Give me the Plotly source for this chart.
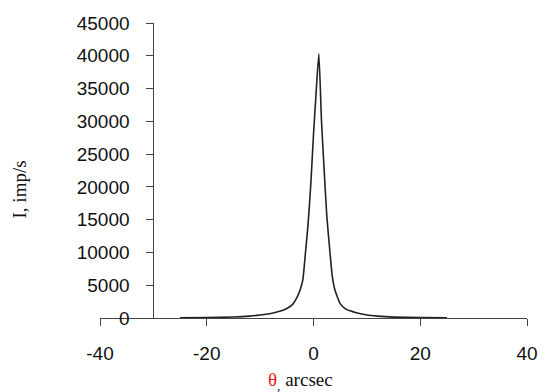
import plotly.graph_objects as go

# Angle (arcsec) and intensity (imp/s)
theta = [-25, -20, -15, -12, -10, -8, -6, -5, -4, -3, -2.5, -2, -1.5, -1, -0.5,
         0, 0.5, 1.0, 1.5, 2.0, 2.5, 3.0, 3.5, 4.0, 5, 6, 7, 8, 10, 12, 15, 20, 25]
intensity = [20, 60, 150, 280, 450, 700, 1100, 1450, 2000, 3300, 4300, 5800, 10000, 14500, 20500,
             28000, 34500, 40300, 30000, 22500, 15500, 10800, 6500, 4300, 2200, 1400, 1050, 800, 450, 280, 140, 60, 20]

x_ticks = [-40, -20, 0, 20, 40]
y_ticks = [0, 5000, 10000, 15000, 20000, 25000, 30000, 35000, 40000, 45000]

axis_color = "#444444"
tick_font = dict(family="Liberation Sans, Arial, sans-serif", size=19, color="#111111")
title_font = dict(family="Liberation Serif, Times New Roman, serif", size=19, color="#111111")

fig = go.Figure()
fig.add_trace(go.Scatter(x=theta, y=intensity, mode="lines",
                         line=dict(color="#222222", width=1.6, shape="spline", smoothing=0.5),
                         showlegend=False, hoverinfo="skip"))

fig.update_layout(
    width=550, height=392,
    margin=dict(l=100, r=15, t=23, b=74),
    paper_bgcolor="white", plot_bgcolor="white",
    xaxis=dict(range=[-40, 40], tickvals=x_ticks, ticktext=[str(v) for v in x_ticks],
               showgrid=False, zeroline=False, showline=True, linecolor=axis_color, linewidth=1,
               ticks="outside", ticklen=7, tickcolor=axis_color, tickwidth=1,
               tickfont=tick_font, ticklabelstandoff=11, anchor="y"),
    yaxis=dict(range=[0, 45000], tickvals=y_ticks, ticktext=[str(v) for v in y_ticks],
               showgrid=False, zeroline=False, showline=True, linecolor=axis_color, linewidth=1,
               ticks="outside", ticklen=7, tickcolor=axis_color, tickwidth=1,
               tickfont=tick_font, anchor="free", position=0.125, ticklabelstandoff=13),
    annotations=[
        dict(text="I, imp/s", textangle=-90, xref="paper", yref="paper",
             x=-0.1885, y=0.434, xanchor="center", yanchor="middle",
             showarrow=False, font=title_font),
        dict(text="<span style='color:#e02020'>θ</span><sub>,</sub> arcsec",
             xref="paper", yref="paper", x=0.47, y=0, xanchor="center", yanchor="top",
             yshift=-49, showarrow=False, font=title_font),
    ],
)

fig.write_html("out.html")
